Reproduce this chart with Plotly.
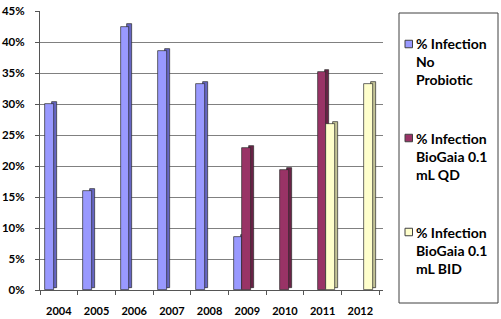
import plotly.graph_objects as go

years = ["2004", "2005", "2006", "2007", "2008", "2009", "2010", "2011", "2012"]
no_probiotic = [0.300, 0.159, 0.425, 0.385, 0.332, 0.085, None, None, None]
biogaia_qd = [None, None, None, None, None, 0.229, 0.193, 0.352, None]
biogaia_bid = [None, None, None, None, None, None, None, 0.268, 0.332]

series_names = [
    "% Infection<br>No<br>Probiotic",
    "% Infection<br>BioGaia 0.1<br>mL QD",
    "% Infection<br>BioGaia 0.1<br>mL BID",
]
series_values = [no_probiotic, biogaia_qd, biogaia_bid]
front_colors = ["#9999FF", "#993366", "#FFFFCC"]
side_colors = ["#6666C4", "#6A2347", "#C4C496"]
offsets = [-0.36, -0.13, 0.10]
bar_w = 0.23
side_w = 0.13
depth_base = 0.0035

fig = go.Figure()

# side (depth) faces, drawn behind
for vals, col, off in zip(series_values, side_colors, offsets):
    fig.add_trace(go.Bar(
        x=years, y=vals, base=depth_base, offset=off + bar_w - 0.05, width=side_w,
        marker=dict(color=col, line=dict(color="#2a2a2a", width=0.7)),
        showlegend=False, hoverinfo="skip",
    ))

# front faces
for name, vals, col, off in zip(series_names, series_values, front_colors, offsets):
    fig.add_trace(go.Bar(
        x=years, y=vals, name=name.replace("<br>", " "), offset=off, width=bar_w,
        marker=dict(color=col, line=dict(color="#2a2a2a", width=0.7)),
        showlegend=False,
    ))

PL, PR, PT, PB = 40, 383, 11, 290
pw, ph = PR - PL, PB - PT

def px_x(v):
    return (v - PL) / pw

def px_y(v):
    return (PB - v) / ph

# legend box drawn as a frame, keys + wrapped labels placed inside it
legend_first_line = [44, 138, 232]
shapes = [dict(
    type="rect", xref="paper", yref="paper",
    x0=px_x(399), x1=px_x(498), y0=px_y(303), y1=px_y(13),
    line=dict(color="#404040", width=1), fillcolor="rgba(0,0,0,0)", layer="below",
)]
annotations = []
for name, col, yc in zip(series_names, front_colors, legend_first_line):
    shapes.append(dict(
        type="rect", xref="paper", yref="paper",
        x0=px_x(405), x1=px_x(412.5), y0=px_y(yc + 3.75), y1=px_y(yc - 3.75),
        line=dict(color="#404040", width=1), fillcolor=col,
    ))
    annotations.append(dict(
        xref="paper", yref="paper", x=px_x(414), y=px_y(yc + 18),
        xanchor="left", yanchor="middle", align="left", showarrow=False,
        text=name,
        font=dict(family="Lato, Open Sans, sans-serif", size=14, color="#000000", weight="bold"),
    ))

fig.update_layout(
    width=501, height=319,
    margin=dict(l=PL, r=501 - PR, t=PT, b=319 - PB),
    paper_bgcolor="white", plot_bgcolor="white",
    barmode="overlay", showlegend=False,
    font=dict(family="Lato, Open Sans, sans-serif", size=11, color="#000000"),
    shapes=shapes, annotations=annotations,
    bargap=0,
)

fig.update_xaxes(
    type="category", range=[-0.5, 8.6], automargin=False,
    showline=True, linecolor="#555555", linewidth=1,
    ticks="outside", ticklen=4, tickcolor="#555555", tickson="boundaries",
    showgrid=False, ticklabelstandoff=11, tickangle=0,
    tickfont=dict(family="Lato, Open Sans, sans-serif", size=11, color="#000000", weight="bold"),
)
fig.update_yaxes(
    range=[0, 0.45], dtick=0.05, tickformat=".0%", automargin=False,
    showline=True, linecolor="#555555", linewidth=1,
    ticks="outside", ticklen=4, tickcolor="#555555",
    showgrid=True, gridcolor="#808080", gridwidth=1, zeroline=False,
    ticklabelstandoff=8,
    tickfont=dict(family="Lato, Open Sans, sans-serif", size=11.5, color="#000000", weight="bold"),
)

fig.write_html(
    "out.html",
    config={"displayModeBar": False},
    post_script="document.body.style.margin='0';document.body.style.overflow='hidden';",
)
